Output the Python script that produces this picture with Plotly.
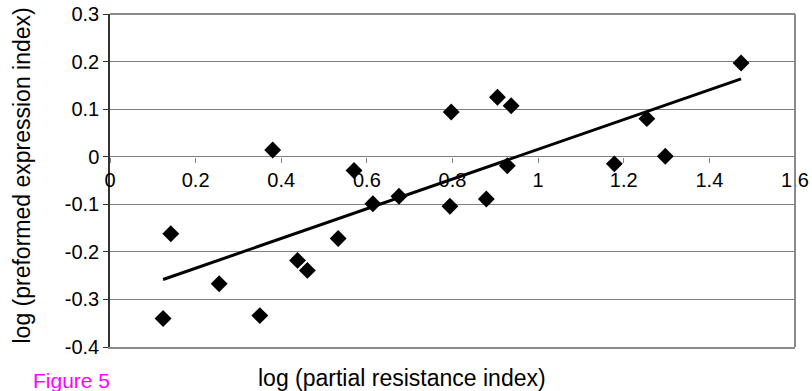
import numpy as np
import plotly.graph_objects as go

# data
x_vals = [0.124, 0.142, 0.255, 0.350, 0.380, 0.438, 0.461, 0.533, 0.570, 0.614, 0.675,
          0.797, 0.794, 0.879, 0.905, 0.937, 0.928, 1.178, 1.254, 1.297, 1.474]
y_vals = [-0.340, -0.162, -0.267, -0.334, 0.014, -0.218, -0.239, -0.172, -0.029, -0.099, -0.083,
          0.094, -0.104, -0.089, 0.125, 0.107, -0.019, -0.015, 0.080, 0.001, 0.197]

x_ticks = [0, 0.2, 0.4, 0.6, 0.8, 1.0, 1.2, 1.4, 1.6]
x_tick_labels = ["0", "0.2", "0.4", "0.6", "0.8", "1", "1.2", "1.4", "1.6"]
y_ticks = [-0.4, -0.3, -0.2, -0.1, 0, 0.1, 0.2, 0.3]
y_tick_labels = ["-0.4", "-0.3", "-0.2", "-0.1", "0", "0.1", "0.2", "0.3"]

x_title = "log (partial resistance index)"
y_title = "log (preformed expression index)"
fig_label = "Figure 5"

# least-squares trendline over the data range
slope, intercept = np.polyfit(x_vals, y_vals, 1)
tx = [min(x_vals), max(x_vals)]
ty = [slope * v + intercept for v in tx]

FONT = "Liberation Sans, Arial, sans-serif"
TICK_FS = 20
TITLE_FS = 23
LABEL_FS = 21
BORDER = "#8a8a8a"

fig = go.Figure()
fig.add_trace(go.Scatter(x=tx, y=ty, mode="lines", xaxis="x2",
                         line=dict(color="black", width=3), showlegend=False,
                         hoverinfo="skip"))
fig.add_trace(go.Scatter(x=x_vals, y=y_vals, mode="markers",
                         marker=dict(symbol="diamond", size=13, color="black",
                                     line=dict(width=0)),
                         showlegend=False))

fig.update_layout(
    width=812, height=391,
    margin=dict(l=110, r=17, t=14, b=44, autoexpand=False),
    paper_bgcolor="white", plot_bgcolor="white",
    font=dict(family=FONT, size=TICK_FS, color="black"),
    xaxis=dict(range=[0, 1.6], showgrid=False, zeroline=False, showticklabels=False,
               automargin=False, ticks="", showline=True, mirror=False,
               linecolor=BORDER, linewidth=2),
    xaxis2=dict(range=[0, 1.6], matches="x", overlaying="x", anchor="free",
                position=4 / 7, side="bottom", showgrid=False, zeroline=False,
                automargin=False, ticklabeloverflow="allow",
                showline=False, ticks="outside", ticklen=5, tickcolor="#808080",
                tickwidth=1, tickvals=x_ticks, ticktext=x_tick_labels,
                tickfont=dict(family=FONT, size=TICK_FS, color="black")),
    yaxis=dict(range=[-0.4, 0.3], tickvals=y_ticks, ticktext=y_tick_labels,
               automargin=False, ticklabeloverflow="allow",
               tickfont=dict(family=FONT, size=TICK_FS, color="black"),
               showgrid=True, gridcolor="#808080", gridwidth=1, zeroline=False,
               showline=True, linecolor="#333333", linewidth=1.5,
               ticks="outside", ticklen=5, tickcolor="#333333"),
    shapes=[
        dict(type="line", xref="paper", yref="paper", x0=1, x1=1, y0=0, y1=1,
             line=dict(color=BORDER, width=2)),
        dict(type="line", xref="paper", yref="paper", x0=0, x1=1, y0=1, y1=1,
             line=dict(color=BORDER, width=2)),
    ],
    annotations=[
        dict(text=x_title, xref="paper", yref="paper", x=(402 - 110) / 685, y=0,
             yshift=-31, showarrow=False, xanchor="center", yanchor="middle",
             font=dict(family=FONT, size=TITLE_FS, color="black")),
        dict(text=y_title, xref="paper", yref="paper", x=0, y=0.5, xshift=-89,
             yshift=5, textangle=-90, showarrow=False, xanchor="center", yanchor="middle",
             font=dict(family=FONT, size=TITLE_FS, color="black")),
        dict(text=fig_label, xref="paper", yref="paper", x=0, y=0, xshift=-39,
             yshift=-33, showarrow=False, xanchor="center", yanchor="middle",
             font=dict(family=FONT, size=LABEL_FS, color="#ff00ff")),
    ],
)

# remove the browser's default 8px body margin so the figure sits at the page origin
fig.write_html("out.html", config={"displayModeBar": False},
               post_script="document.body.style.margin='0';")
